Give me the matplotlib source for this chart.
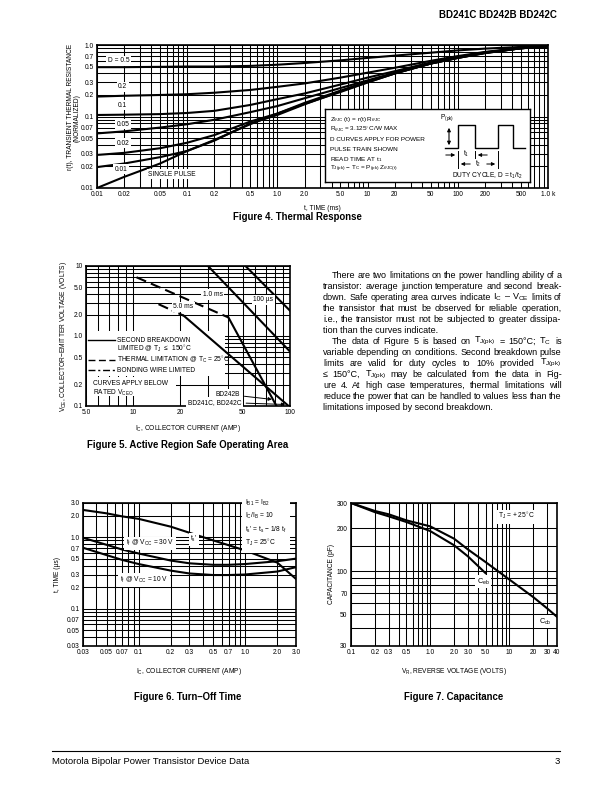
import matplotlib
matplotlib.use('Agg')
import matplotlib.pyplot as plt
from matplotlib.ticker import LogLocator, FixedLocator
from matplotlib.patches import Rectangle
import numpy as np

plt.rcParams['font.family'] = ['Liberation Sans', 'DejaVu Sans']
plt.rcParams['mathtext.fontset'] = 'custom'
plt.rcParams['mathtext.rm'] = 'Liberation Sans'
plt.rcParams['mathtext.it'] = 'Liberation Sans:italic'
plt.rcParams['mathtext.bf'] = 'Liberation Sans:bold'

W, H = 612, 792

# ---- Figure 4: thermal response, r(t) vs time (ms)
t_ms = [0.01, 0.02, 0.05, 0.1, 0.2, 0.5, 1.0, 2.0, 5.0, 10, 20, 50, 100, 200, 500, 1000]
r_d05 = [0.49, 0.49, 0.495, 0.5, 0.5, 0.51, 0.53, 0.56, 0.61, 0.66, 0.71, 0.78, 0.84, 0.89, 0.94, 0.97]
r_d02 = [0.19, 0.195, 0.2, 0.205, 0.215, 0.235, 0.26, 0.29, 0.35, 0.41, 0.48, 0.6, 0.7, 0.8, 0.91, 0.96]
r_d01 = [0.105, 0.106, 0.108, 0.112, 0.12, 0.145, 0.175, 0.21, 0.28, 0.35, 0.43, 0.57, 0.68, 0.79, 0.9, 0.96]
r_d005 = [0.058, 0.062, 0.07, 0.078, 0.09, 0.115, 0.14, 0.18, 0.25, 0.32, 0.41, 0.55, 0.67, 0.78, 0.9, 0.96]
r_d002 = [0.029, 0.031, 0.036, 0.043, 0.055, 0.085, 0.11, 0.155, 0.23, 0.31, 0.4, 0.55, 0.66, 0.78, 0.9, 0.96]
r_d001 = [0.0196, 0.022, 0.027, 0.033, 0.046, 0.08, 0.105, 0.148, 0.225, 0.3, 0.4, 0.55, 0.66, 0.77, 0.9, 0.96]
r_single = [0.01, 0.0143, 0.022, 0.033, 0.047, 0.078, 0.11, 0.15, 0.22, 0.3, 0.4, 0.55, 0.66, 0.77, 0.9, 0.96]
t_ticks = [0.01, 0.02, 0.05, 0.1, 0.2, 0.5, 1.0, 2.0, 5.0, 10, 20, 50, 100, 200, 500, 1000]
t_labels = ['0.01', '0.02', '0.05', '0.1', '0.2', '0.5', '1.0', '2.0', '5.0', '10', '20', '50',
            '100', '200', '500', '1.0 k']
r_ticks = [0.01, 0.02, 0.03, 0.05, 0.07, 0.1, 0.2, 0.3, 0.5, 0.7, 1.0]
r_labels = ['0.01', '0.02', '0.03', '0.05', '0.07', '0.1', '0.2', '0.3', '0.5', '0.7', '1.0']

# ---- Figure 5: safe operating area
soa_100us_x = [52, 100]
soa_100us_y = [10, 2.3]
soa_1ms_x = [30, 100]
soa_1ms_y = [10, 0.6]
soa_thermal_x = [10.5, 40.5]
soa_thermal_y = [6.9, 1.84]
soa_dc_x = [40.5, 82]
soa_dc_y = [1.84, 0.1]
soa_bond_x = [14.5, 21]
soa_bond_y = [2.85, 1.95]
soa_5ms_x = [21, 98]
soa_5ms_y = [1.95, 0.1]
soa_x_ticks = [5, 10, 20, 50, 100]
soa_x_labels = ['5.0', '10', '20', '50', '100']
soa_y_ticks = [0.1, 0.2, 0.5, 1.0, 2.0, 5.0, 10]
soa_y_labels = ['0.1', '0.2', '0.5', '1.0', '2.0', '5.0', '10']

# ---- Figure 6: turn-off time
ic_amp = [0.03, 0.05, 0.07, 0.1, 0.2, 0.3, 0.5, 0.7, 1.0, 2.0, 3.0]
ts_prime = [2.4, 2.15, 1.95, 1.8, 1.4, 1.15, 0.9, 0.77, 0.65, 0.44, 0.26]
tf_30v = [0.98, 0.78, 0.67, 0.59, 0.47, 0.43, 0.41, 0.41, 0.42, 0.46, 0.5]
tf_10v = [0.71, 0.56, 0.48, 0.42, 0.34, 0.31, 0.295, 0.295, 0.3, 0.33, 0.38]
ic_ticks = [0.03, 0.05, 0.07, 0.1, 0.2, 0.3, 0.5, 0.7, 1.0, 2.0, 3.0]
ic_labels = ['0.03', '0.05', '0.07', '0.1', '0.2', '0.3', '0.5', '0.7', '1.0', '2.0', '3.0']
tus_ticks = [0.03, 0.05, 0.07, 0.1, 0.2, 0.3, 0.5, 0.7, 1.0, 2.0, 3.0]
tus_labels = ['0.03', '0.05', '0.07', '0.1', '0.2', '0.3', '0.5', '0.7', '1.0', '2.0', '3.0']

# ---- Figure 7: capacitance
vr_volts = [0.1, 0.2, 0.3, 0.5, 1.0, 2.0, 3.0, 5.0, 10, 20, 30, 40]
c_cb = [300, 264, 250, 227, 206, 169, 142, 116, 87.5, 66, 55, 48]
vr_eb = [0.1, 0.2, 0.3, 0.5, 1.0, 2.0, 3.0, 5.0]
c_eb = [300, 259, 242, 221, 191, 152, 127, 97]
vr_ticks = [0.1, 0.2, 0.3, 0.5, 1.0, 2.0, 3.0, 5.0, 10, 20, 30, 40]
vr_labels = ['0.1', '0.2', '0.3', '0.5', '1.0', '2.0', '3.0', '5.0', '10', '20', '30', '40']
cap_ticks = [30, 50, 70, 100, 200, 300]
cap_labels = ['30', '50', '70', '100', '200', '300']
cap_minor = [40, 60, 80, 90, 150]

fig = plt.figure(figsize=(W / 100, H / 100), dpi=100)


def px_axes(l, t, r, b):
    return fig.add_axes([l / W, 1 - b / H, (r - l) / W, (b - t) / H])


def ptext(x, y, s, **kw):
    kw.setdefault('va', 'center')
    return fig.text(x / W, 1 - y / H, s, **kw)


def log_grid(ax, xlim, ylim, xt, xl, yt, yl, yminor=None):
    ax.set_xscale('log')
    ax.set_yscale('log')
    ax.set_xlim(xlim)
    ax.set_ylim(ylim)
    ax.set_xticks(xt, labels=xl)
    ax.set_yticks(yt, labels=yl)
    ax.xaxis.set_minor_locator(LogLocator(base=10, subs=np.arange(2, 10), numticks=50))
    if yminor is None:
        ax.yaxis.set_minor_locator(LogLocator(base=10, subs=np.arange(2, 10), numticks=50))
    else:
        ax.yaxis.set_minor_locator(FixedLocator(yminor))
    ax.xaxis.set_minor_formatter(plt.NullFormatter())
    ax.yaxis.set_minor_formatter(plt.NullFormatter())
    ax.grid(which='both', color='black', lw=0.75)
    ax.set_axisbelow(True)
    ax.tick_params(which='both', length=0, labelsize=4.8, pad=2.5)
    for s in ax.spines.values():
        s.set_linewidth(1.2)


box = dict(facecolor='white', edgecolor='none', pad=1.2)
fs = 4.8
lw = 1.5
cap_fs = 6.9

# header / footer
ptext(557, 15, 'BD241C BD242B BD242C', ha='right', fontsize=7.0, fontweight='bold')
fig.add_artist(plt.Line2D([52 / W, 560 / W], [1 - 751 / H, 1 - 751 / H], color='black', lw=0.8))
ptext(52, 762, 'Motorola Bipolar Power Transistor Device Data', fontsize=6.8)
ptext(560, 761, '3', ha='right', fontsize=6.8)

# ================= Figure 4
ax4 = px_axes(97, 45, 548, 188)
log_grid(ax4, (0.01, 1000), (0.01, 1.0), t_ticks, t_labels, r_ticks, r_labels)
for r in [r_d05, r_d02, r_d01, r_d005, r_d002, r_d001, r_single]:
    ax4.plot(t_ms, r, color='black', lw=lw, zorder=3)
for s, x, y in [('D = 0.5', 0.0175, 0.6), ('0.2', 0.0193, 0.259), ('0.1', 0.0193, 0.1435),
                ('0.05', 0.0193, 0.0778), ('0.02', 0.0193, 0.0422), ('0.01', 0.0186, 0.0183),
                ('SINGLE PULSE', 0.068, 0.0156)]:
    ax4.text(x, y, s, ha='center', va='center', fontsize=fs, bbox=box, zorder=4)
ax4.set_xlabel('t, TIME (ms)', fontsize=fs, labelpad=5)
ptext(70, 107, 'r(t), TRANSIENT THERMAL RESISTANCE', rotation=90, ha='center', fontsize=fs)
ptext(77, 118, '(NORMALIZED)', rotation=90, ha='center', fontsize=fs)
ptext(297, 217, 'Figure 4. Thermal Response', ha='center', fontsize=cap_fs, fontweight='bold')

# inset note box of Figure 4
ins = px_axes(325, 109, 530, 182)
ins.set_xlim(0, 205)
ins.set_ylim(73, 0)
ins.set_xticks([])
ins.set_yticks([])
ins.set_facecolor('white')
ins.set_zorder(5)
for s in ins.spines.values():
    s.set_linewidth(1.0)
notes = [r'Z$_{\theta\mathrm{JC}}$ (t) = r(t) R$_{\theta\mathrm{JC}}$',
         r'R$_{\theta\mathrm{JC}}$ = 3.125$\!^\circ$C/W MAX',
         'D CURVES APPLY FOR POWER',
         'PULSE TRAIN SHOWN',
         r'READ TIME AT t$_\mathrm{1}$',
         r'T$_\mathrm{J(pk)}$ $-$ T$_\mathrm{C}$ = P$_\mathrm{(pk)}$ Z$_{\theta\mathrm{JC(t)}}$']
for i, s in enumerate(notes):
    ins.text(5, 10.5 + i * 9.9, s, fontsize=4.6, va='center')
ins.plot([120, 133, 133, 150, 150, 173, 173, 188, 188, 200],
         [39, 39, 16, 16, 39, 39, 16, 16, 39, 39], color='black', lw=1.0)
ins.annotate('', xy=(124, 16), xytext=(124, 39),
             arrowprops=dict(arrowstyle='<|-|>', color='black', lw=0.8, mutation_scale=5))
ins.text(122, 9, r'P$_\mathrm{(pk)}$', fontsize=fs, ha='center', va='center')
ins.plot([133, 133], [42, 59], color='black', lw=0.7)
ins.plot([150, 150], [42, 49], color='black', lw=0.7)
ins.plot([173, 173], [42, 59], color='black', lw=0.7)
ins.annotate('', xy=(133, 46), xytext=(118, 46),
             arrowprops=dict(arrowstyle='-|>', color='black', lw=0.7, mutation_scale=5))
ins.annotate('', xy=(150, 46), xytext=(165, 46),
             arrowprops=dict(arrowstyle='-|>', color='black', lw=0.7, mutation_scale=5))
ins.text(141.5, 45, r't$_\mathrm{1}$', fontsize=fs, ha='center', va='center')
ins.annotate('', xy=(133, 55), xytext=(148, 55),
             arrowprops=dict(arrowstyle='-|>', color='black', lw=0.7, mutation_scale=5))
ins.annotate('', xy=(173, 55), xytext=(159, 55),
             arrowprops=dict(arrowstyle='-|>', color='black', lw=0.7, mutation_scale=5))
ins.text(153.5, 55, r't$_\mathrm{2}$', fontsize=fs, ha='center', va='center')
ins.text(127, 66.5, r'DUTY CYCLE, D = t$_\mathrm{1}$/t$_\mathrm{2}$', fontsize=fs, va='center')

# ================= Figure 5
ax5 = px_axes(86, 266, 290, 406)
log_grid(ax5, (5, 100), (0.1, 10), soa_x_ticks, soa_x_labels, soa_y_ticks, soa_y_labels)
ax5.add_patch(Rectangle((0.003, 0.215), 0.68, 0.32, transform=ax5.transAxes,
                        facecolor='white', edgecolor='none', zorder=1))
ax5.add_patch(Rectangle((0.003, 0.07), 0.44, 0.14, transform=ax5.transAxes,
                        facecolor='white', edgecolor='none', zorder=1))
ax5.plot(soa_100us_x, soa_100us_y, color='black', lw=lw, zorder=3)
ax5.plot(soa_1ms_x, soa_1ms_y, color='black', lw=lw, zorder=3)
ax5.plot(soa_thermal_x, soa_thermal_y, color='black', lw=lw, ls=(0, (5, 2.5)), zorder=3)
ax5.plot(soa_dc_x, soa_dc_y, color='black', lw=lw, zorder=3)
ax5.plot(soa_bond_x, soa_bond_y, color='black', lw=lw, ls=(0, (5, 2, 1.5, 2)), zorder=3)
ax5.plot(soa_5ms_x, soa_5ms_y, color='black', lw=lw, zorder=3)
ax5.text(32.2, 3.9, '1.0 ms', fontsize=fs, ha='center', va='center', bbox=box, zorder=4)
ax5.text(67.6, 3.27, '100 µs', fontsize=fs, ha='center', va='center', bbox=box, zorder=4)
ax5.text(20.9, 2.6, '5.0 ms', fontsize=fs, ha='center', va='center', bbox=box, zorder=4)
leg_rows = [(0.47, '-', 'SECOND BREAKDOWN'),
            (0.404, None, r'LIMITED @ T$_\mathrm{J}$ $\leq$  150$\!^\circ$C'),
            (0.326, (0, (5, 2.5)), r'THERMAL LIMITATION @ T$_\mathrm{C}$ = 25$\!^\circ$C'),
            (0.255, (0, (5, 2, 1.5, 2)), 'BONDING WIRE LIMITED')]
for y, ls, s in leg_rows:
    if ls is not None:
        ax5.plot([0.012, 0.14], [y, y], transform=ax5.transAxes, color='black', lw=1.0,
                 ls=ls, zorder=3)
    ax5.text(0.15, y, s, transform=ax5.transAxes, fontsize=fs, va='center', zorder=4)
ax5.text(0.036, 0.163, 'CURVES APPLY BELOW', transform=ax5.transAxes, fontsize=fs, va='center')
ax5.text(0.036, 0.097, r'RATED V$_\mathrm{CEO}$', transform=ax5.transAxes, fontsize=fs, va='center')
ax5.annotate('BD242B', xy=(0.925, 0.045), xytext=(0.755, 0.083), xycoords='axes fraction',
             textcoords='axes fraction', fontsize=fs, ha='right', va='center',
             bbox=box, arrowprops=dict(arrowstyle='-|>', color='black', lw=0.7, mutation_scale=5))
ax5.annotate('BD241C, BD242C', xy=(0.99, 0.01), xytext=(0.763, 0.028), xycoords='axes fraction',
             textcoords='axes fraction', fontsize=fs, ha='right', va='center',
             bbox=box, arrowprops=dict(arrowstyle='-|>', color='black', lw=0.7, mutation_scale=5))
ax5.set_xlabel(r'I$_\mathrm{C}$, COLLECTOR CURRENT (AMP)', fontsize=fs, labelpad=5)
ax5.set_ylabel(r'V$_\mathrm{CE}$, COLLECTOR$-$EMITTER VOLTAGE (VOLTS)', fontsize=fs, labelpad=3)
ptext(188, 445, 'Figure 5. Active Region Safe Operating Area', ha='center', fontsize=cap_fs,
      fontweight='bold')

# ================= paragraph (justified)
para = [(332, 'There are two limitations on the power handling ability of a', True),
        (323, 'transistor: average junction temperature and second break-', True),
        (323, r'down. Safe operating area curves indicate I$_\mathrm{C}$ – V$_\mathrm{CE}$ limits of', True),
        (323, 'the transistor that must be observed for reliable operation,', True),
        (323, 'i.e., the transistor must not be subjected to greater dissipa-', True),
        (323, 'tion than the curves indicate.', False),
        (332, r'The data of Figure 5 is based on T$_\mathrm{J(pk)}$ = 150°C; T$_\mathrm{C}$ is', True),
        (323, 'variable depending on conditions. Second breakdown pulse', True),
        (323, r'limits are valid for duty cycles to 10% provided T$_\mathrm{J(pk)}$', True),
        (323, r'≤ 150°C,  T$_\mathrm{J(pk)}$ may be calculated from the data in Fig-', True),
        (323, 'ure 4. At high case temperatures, thermal limitations will', True),
        (323, 'reduce the power that can be handled to values less than the', True),
        (323, 'limitations imposed by second breakdown.', False)]
renderer = fig.canvas.get_renderer()
para_fs = 6.5
for i, (x0, line, just) in enumerate(para):
    y = 275 + i * 11.05
    if not just:
        ptext(x0, y, line, fontsize=para_fs)
        continue
    words = line.split()
    widths = []
    for w in words:
        t = ptext(0, 0, w, fontsize=para_fs)
        widths.append(t.get_window_extent(renderer).width)
        t.remove()
    gap = (561.5 - x0 - sum(widths)) / (len(words) - 1)
    x = x0
    for w, wd in zip(words, widths):
        ptext(x, y, w, fontsize=para_fs)
        x += wd + gap

# ================= Figure 6
ax6 = px_axes(83, 503, 296, 646)
log_grid(ax6, (0.03, 3.0), (0.03, 3.0), ic_ticks, ic_labels, tus_ticks, tus_labels)
ax6.plot(ic_amp, ts_prime, color='black', lw=lw, zorder=3)
ax6.plot(ic_amp, tf_30v, color='black', lw=lw, zorder=3)
ax6.plot(ic_amp, tf_10v, color='black', lw=lw, zorder=3)
ax6.text(0.33, 0.93, "t$_\\mathrm{s}$'", fontsize=fs, ha='center', va='center', bbox=box, zorder=4)
ax6.text(0.128, 0.82, r't$_\mathrm{f}$ @ V$_\mathrm{CC}$ = 30 V', fontsize=fs, ha='center',
         va='center', bbox=box, zorder=4)
ax6.text(0.112, 0.25, r't$_\mathrm{f}$ @ V$_\mathrm{CC}$ = 10 V', fontsize=fs, ha='center',
         va='center', bbox=box, zorder=4)
ax6.text(1.0, 1.55, r'I$_\mathrm{B1}$ = I$_\mathrm{B2}$' + '\n' + r'I$_\mathrm{C}$/I$_\mathrm{B}$ = 10'
         + '\n' + r"t$_\mathrm{s}$' = t$_\mathrm{s}$ $-$ 1/8 t$_\mathrm{f}$" + '\n'
         + r'T$_\mathrm{J}$ = 25$\!^\circ$C', fontsize=fs, va='center', linespacing=1.45,
         bbox=dict(facecolor='white', edgecolor='none', pad=2.5), zorder=4)
ax6.set_xlabel(r'I$_\mathrm{C}$, COLLECTOR CURRENT (AMP)', fontsize=fs, labelpad=7)
ax6.set_ylabel('t, TIME (µs)', fontsize=fs, labelpad=4)
ptext(188, 697, 'Figure 6. Turn–Off Time', ha='center', fontsize=cap_fs, fontweight='bold')

# ================= Figure 7
ax7 = px_axes(351, 503, 557, 646)
log_grid(ax7, (0.1, 40), (30, 300), vr_ticks, vr_labels, cap_ticks, cap_labels, yminor=cap_minor)
ax7.plot(vr_volts, c_cb, color='black', lw=lw, zorder=3)
ax7.plot(vr_eb, c_eb, color='black', lw=lw, zorder=3)
ax7.text(12.4, 240, r'T$_\mathrm{J}$ = + 25$\!^\circ$C', fontsize=fs, ha='center', va='center',
         bbox=box, zorder=4)
ax7.text(4.68, 84.5, r'C$_\mathrm{eb}$', fontsize=fs + 0.5, ha='center', va='center', bbox=box, zorder=4)
ax7.text(28.2, 44.4, r'C$_\mathrm{cb}$', fontsize=fs + 0.5, ha='center', va='center', bbox=box, zorder=4)
ax7.set_xlabel(r'V$_\mathrm{R}$, REVERSE VOLTAGE (VOLTS)', fontsize=fs, labelpad=7)
ax7.set_ylabel('CAPACITANCE (pF)', fontsize=fs, labelpad=1)
ptext(454, 697, 'Figure 7. Capacitance', ha='center', fontsize=cap_fs, fontweight='bold')

fig.savefig('out.png', dpi=100)
